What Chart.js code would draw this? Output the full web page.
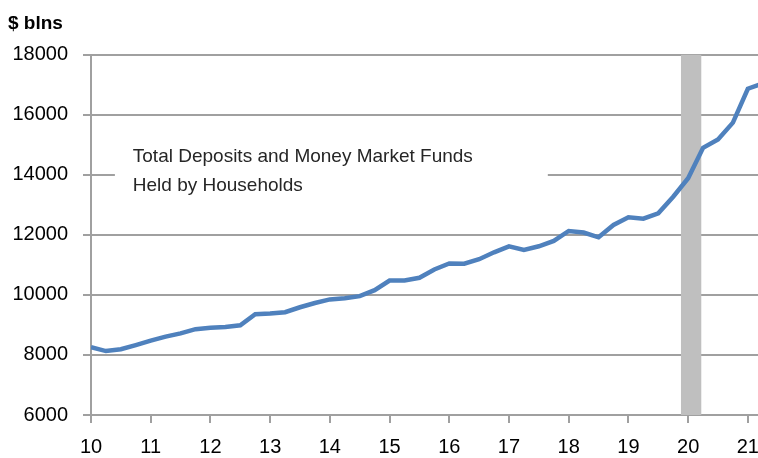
<!DOCTYPE html>
<html>
<head>
<meta charset="utf-8">
<script src="https://cdn.jsdelivr.net/npm/chart.js@4/dist/chart.umd.min.js"></script>
<style>
  html, body { margin: 0; padding: 0; background: #ffffff; }
  #wrap { width: 758px; height: 458px; }
</style>
</head>
<body>
<div id="wrap"><canvas id="c" width="758" height="458"></canvas></div>
<script>
// ---- Data (quarterly) ----
const quarters = [
  2010.00, 2010.25, 2010.50, 2010.75,
  2011.00, 2011.25, 2011.50, 2011.75,
  2012.00, 2012.25, 2012.50, 2012.75,
  2013.00, 2013.25, 2013.50, 2013.75,
  2014.00, 2014.25, 2014.50, 2014.75,
  2015.00, 2015.25, 2015.50, 2015.75,
  2016.00, 2016.25, 2016.50, 2016.75,
  2017.00, 2017.25, 2017.50, 2017.75,
  2018.00, 2018.25, 2018.50, 2018.75,
  2019.00, 2019.25, 2019.50, 2019.75,
  2020.00, 2020.25, 2020.50, 2020.75,
  2021.00, 2021.25
];
const deposits = [
  8260, 8130, 8190, 8330,
  8480, 8610, 8720, 8860,
  8910, 8935, 8990, 9360,
  9380, 9425, 9590, 9730,
  9850, 9890, 9960, 10160,
  10480, 10480, 10570, 10850,
  11050, 11040, 11190, 11420,
  11620, 11500, 11620, 11800,
  12130, 12080, 11920, 12330,
  12590, 12540, 12720, 13270,
  13890, 14900, 15180, 15740,
  16870, 17050
];
const yTickValues = [6000, 8000, 10000, 12000, 14000, 16000, 18000];
const xTickYears = [2010, 2011, 2012, 2013, 2014, 2015, 2016, 2017, 2018, 2019, 2020, 2021];
const recessionStart = 2019.88;
const recessionEnd = 2020.22;
const seriesLabel = ['Total Deposits and Money Market Funds', 'Held by Households'];
const unitLabel = '$ blns';

const FONT = "'Liberation Sans', Arial, sans-serif";
const GRID = '#A0A0A0';

const overlayPlugin = {
  id: 'overlay',
  beforeDatasetsDraw(chart) {
    const { ctx, chartArea, scales } = chart;
    const xs = scales.x, ys = scales.y;
    ctx.save();
    // recession shading
    const x0 = xs.getPixelForValue(recessionStart);
    const x1 = xs.getPixelForValue(recessionEnd);
    ctx.fillStyle = '#BFBFBF';
    ctx.fillRect(x0, chartArea.top, x1 - x0, chartArea.bottom - chartArea.top);
    // annotation box (white, covers gridline)
    const bx0 = xs.getPixelForValue(2010.4);
    const bx1 = xs.getPixelForValue(2017.65);
    const by0 = ys.getPixelForValue(14900);
    const by1 = ys.getPixelForValue(13250);
    ctx.fillStyle = '#ffffff';
    ctx.fillRect(bx0, by0, bx1 - bx0, by1 - by0);
    // annotation text
    ctx.fillStyle = '#262626';
    ctx.font = "19px " + FONT;
    ctx.textAlign = 'left';
    ctx.textBaseline = 'middle';
    const tx = xs.getPixelForValue(2010.7);
    ctx.fillText(seriesLabel[0], tx, ys.getPixelForValue(14600));
    ctx.fillText(seriesLabel[1], tx, ys.getPixelForValue(13630));
    ctx.restore();
  }
};

new Chart(document.getElementById('c'), {
  type: 'line',
  data: {
    datasets: [{
      label: seriesLabel.join(' '),
      data: quarters.map((q, i) => ({ x: q, y: deposits[i] })),
      borderColor: '#4F81BD',
      borderWidth: 4.5,
      pointRadius: 0,
      tension: 0,
      fill: false,
      clip: 0
    }]
  },
  options: {
    responsive: false,
    animation: false,
    layout: { padding: { left: 8, right: 0, top: 0, bottom: 0 } },
    plugins: {
      legend: { display: false },
      tooltip: { enabled: false },
      title: {
        display: true,
        text: unitLabel,
        align: 'start',
        color: '#000000',
        font: { family: FONT, size: 19, weight: 'bold' },
        padding: { top: 12, bottom: 20 }
      }
    },
    scales: {
      x: {
        type: 'linear',
        min: 2010,
        max: 2021.17,
        afterBuildTicks(scale) { scale.ticks = xTickYears.map(v => ({ value: v })); },
        afterFit(scale) { scale.height = 43; scale.paddingLeft = 0; scale.paddingRight = 0; },
        ticks: {
          autoSkip: false,
          maxRotation: 0,
          padding: 12,
          color: '#000000',
          font: { family: FONT, size: 20 },
          callback: (v) => String(Math.round(v) % 100).padStart(2, '0')
        },
        grid: { drawOnChartArea: false, drawTicks: true, tickLength: 8, color: GRID, lineWidth: 2 },
        border: { display: true, color: GRID, width: 2 }
      },
      y: {
        min: 6000,
        max: 18000,
        afterBuildTicks(scale) { scale.ticks = yTickValues.map(v => ({ value: v })); },
        afterFit(scale) { scale.width = 83; },
        ticks: {
          padding: 15,
          color: '#000000',
          font: { family: FONT, size: 20 },
          callback: (v) => String(v)
        },
        grid: { drawTicks: true, tickLength: 8, color: GRID, lineWidth: 2 },
        border: { display: true, color: GRID, width: 2 }
      }
    }
  },
  plugins: [overlayPlugin]
});
</script>
</body>
</html>
